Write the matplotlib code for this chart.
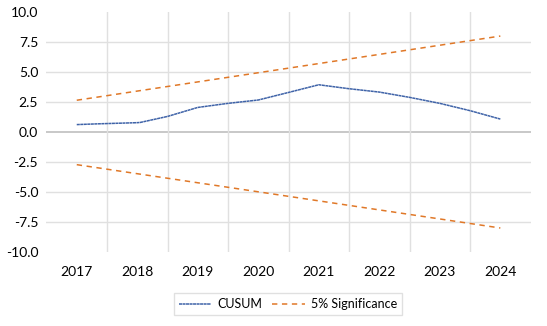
import numpy as np
import matplotlib
matplotlib.use("Agg")
import matplotlib.pyplot as plt

years = ["2017", "2018", "2019", "2020", "2021", "2022", "2023", "2024"]

# CUSUM (x in year index)
cusum_x = [0, 0.33, 1.0, 1.05, 1.5, 2, 2.5, 3, 3.5, 4, 4.5, 5, 5.5, 6, 6.5, 7]
cusum_y = [0.62, 0.68, 0.78, 0.80, 1.30, 2.05, 2.39, 2.67, 3.30, 3.94, 3.61, 3.33, 2.89, 2.39, 1.78, 1.08]

# 5% significance bounds
sig_x = [0, 7]
sig_upper = [2.65, 8.0]
sig_lower = [-2.72, -8.0]

blue = "#3F63A8"
orange = "#E07828"

plt.rcParams['font.family'] = ['Lato', 'DejaVu Sans']

fig = plt.figure(figsize=(5.47, 3.26), dpi=100)
ax = fig.add_axes([0.085, 0.227, 0.885, 0.736])

ax.plot(cusum_x, cusum_y, color=blue, lw=1.1, ls=(0, (2, 0.3)), label="CUSUM")
ax.plot(sig_x, sig_upper, color=orange, lw=1.1, ls=(0, (3.5, 3)), label="5% Significance")
ax.plot(sig_x, sig_lower, color=orange, lw=1.1, ls=(0, (3.5, 3)))

ax.set_xlim(-0.5, 7.5)
ax.set_ylim(-10, 10)
ax.set_xticks(range(len(years)))
ax.set_xticklabels(years)
ax.set_yticks(np.arange(-10, 10.1, 2.5))
ax.set_yticklabels(["%.1f" % v for v in np.arange(-10, 10.1, 2.5)])
ax.tick_params(length=0, labelsize=10, colors="#000000", pad=6)
ax.tick_params(axis='x', pad=10)

for v in np.arange(-7.5, 7.6, 2.5):
    if abs(v) < 1e-9:
        continue
    ax.axhline(v, color="#E0E0E0", lw=1, zorder=0)
ax.axhline(0, color="#BFBFBF", lw=1.2, zorder=0)
for v in np.arange(0.5, 7, 1):
    ax.axvline(v, color="#E0E0E0", lw=1, zorder=0)

for s in ax.spines.values():
    s.set_visible(False)

leg = fig.legend(loc="center", bbox_to_anchor=(288 / 547, 1 - 304 / 326), ncol=2,
                 fontsize=9, frameon=True, fancybox=False, handlelength=2.6,
                 columnspacing=0.8, handletextpad=0.5, borderpad=0.4)
leg.get_frame().set_edgecolor("#D9D9D9")
leg.get_frame().set_linewidth(1)

fig.savefig("out.png", dpi=100)
